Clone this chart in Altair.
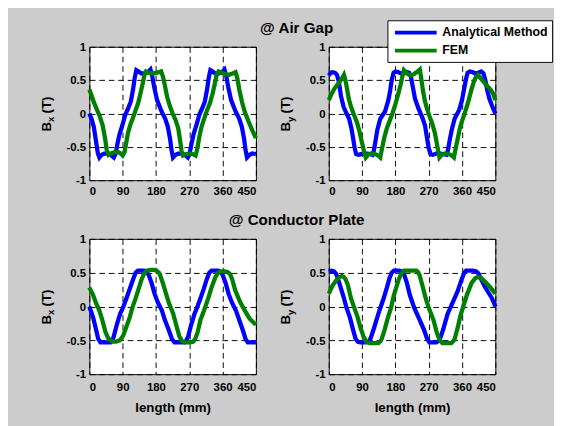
import altair as alt
import pandas as pd

FONT = "Liberation Sans"
METHODS = ["Analytical Method", "FEM"]
COLORS = ["#0000ff", "#008000"]
X_TICKS = [0, 90, 180, 270, 360, 450]
Y_TICKS = [-1, -0.5, 0, 0.5, 1]

# (length mm, B in T)
gap_bx_ana = [(0, 0.0), (6, -0.08), (12, -0.2), (18, -0.42), (23, -0.6), (27, -0.66), (33, -0.62), (40, -0.6),
              (50, -0.6), (58, -0.62), (66, -0.66), (71, -0.6), (76, -0.45), (82, -0.3), (89, -0.18), (97, -0.02),
              (105, 0.08), (112, 0.18), (118, 0.36), (123, 0.55), (127, 0.65), (133, 0.63), (140, 0.6), (150, 0.6),
              (158, 0.62), (165, 0.66), (170, 0.56), (175, 0.4), (183, 0.2), (195, 0.03), (205, -0.08), (212, -0.2),
              (218, -0.38), (222, -0.55), (226, -0.66), (233, -0.62), (240, -0.6), (250, -0.6), (258, -0.62),
              (266, -0.66), (271, -0.6), (276, -0.45), (282, -0.3), (289, -0.18), (297, -0.02), (305, 0.08),
              (312, 0.18), (318, 0.36), (323, 0.55), (327, 0.65), (333, 0.63), (340, 0.6), (350, 0.6), (358, 0.62),
              (365, 0.66), (370, 0.56), (375, 0.4), (383, 0.2), (395, 0.03), (405, -0.08), (412, -0.2), (418, -0.38),
              (422, -0.55), (426, -0.66), (433, -0.62), (440, -0.6), (450, -0.61)]
gap_bx_fem = [(0, 0.36), (6, 0.27), (12, 0.17), (20, 0.06), (28, -0.04), (36, -0.18), (42, -0.36), (47, -0.55),
              (52, -0.62), (58, -0.6), (68, -0.58), (78, -0.58), (85, -0.6), (90, -0.63), (95, -0.58), (99, -0.46),
              (104, -0.3), (110, -0.18), (118, -0.06), (125, 0.05), (132, 0.16), (138, 0.3), (144, 0.45),
              (149, 0.58), (153, 0.63), (160, 0.61), (170, 0.6), (180, 0.61), (188, 0.62), (194, 0.63), (199, 0.55),
              (204, 0.42), (210, 0.25), (217, 0.12), (225, 0.0), (233, -0.1), (240, -0.22), (245, -0.4),
              (249, -0.56), (253, -0.63), (260, -0.61), (270, -0.6), (280, -0.61), (287, -0.63), (292, -0.52),
              (297, -0.35), (303, -0.2), (310, -0.08), (318, 0.05), (326, 0.16), (333, 0.3), (339, 0.45),
              (344, 0.58), (349, 0.63), (357, 0.61), (367, 0.59), (377, 0.58), (387, 0.6), (395, 0.62), (400, 0.52),
              (405, 0.36), (412, 0.18), (420, 0.02), (430, -0.12), (440, -0.25), (450, -0.37)]
gap_by_ana = [(0, 0.57), (5, 0.61), (10, 0.62), (17, 0.61), (22, 0.58), (27, 0.48), (33, 0.26), (40, 0.1),
              (48, 0.0), (55, -0.08), (61, -0.22), (66, -0.38), (70, -0.52), (74, -0.61), (80, -0.62), (87, -0.61),
              (95, -0.6), (105, -0.6), (113, -0.61), (118, -0.62), (122, -0.55), (126, -0.42), (131, -0.25),
              (139, -0.08), (152, 0.03), (161, 0.2), (166, 0.35), (170, 0.5), (175, 0.61), (180, 0.63), (187, 0.62),
              (195, 0.6), (203, 0.6), (211, 0.62), (217, 0.61), (222, 0.55), (226, 0.43), (233, 0.22), (242, 0.08),
              (252, -0.05), (260, -0.18), (265, -0.35), (270, -0.52), (275, -0.61), (281, -0.62), (290, -0.6),
              (300, -0.6), (310, -0.61), (318, -0.62), (322, -0.55), (326, -0.42), (332, -0.25), (340, -0.08),
              (352, 0.05), (360, 0.2), (366, 0.38), (371, 0.52), (375, 0.61), (381, 0.63), (388, 0.62), (396, 0.6),
              (404, 0.61), (412, 0.63), (418, 0.6), (423, 0.5), (428, 0.35), (434, 0.22), (440, 0.13), (446, 0.05),
              (450, 0.0)]
gap_by_fem = [(0, 0.2), (8, 0.3), (15, 0.37), (23, 0.43), (30, 0.48), (36, 0.53), (41, 0.58), (45, 0.5),
              (49, 0.38), (54, 0.22), (60, 0.1), (68, -0.02), (76, -0.13), (83, -0.27), (89, -0.42), (95, -0.56),
              (100, -0.66), (106, -0.62), (115, -0.6), (126, -0.61), (133, -0.63), (139, -0.66), (144, -0.52),
              (150, -0.36), (157, -0.22), (165, -0.1), (172, 0.0), (180, 0.14), (187, 0.28), (194, 0.43),
              (199, 0.56), (203, 0.65), (208, 0.62), (214, 0.59), (222, 0.57), (230, 0.59), (238, 0.62), (246, 0.66),
              (250, 0.52), (254, 0.36), (259, 0.2), (265, 0.08), (272, -0.04), (280, -0.16), (287, -0.3),
              (293, -0.48), (299, -0.66), (305, -0.62), (315, -0.6), (325, -0.61), (332, -0.63), (338, -0.66),
              (343, -0.52), (349, -0.36), (355, -0.2), (362, -0.08), (370, 0.05), (378, 0.2), (385, 0.35),
              (392, 0.48), (398, 0.55), (403, 0.58), (410, 0.53), (418, 0.48), (425, 0.43), (437, 0.36), (444, 0.3),
              (450, 0.2)]
plate_bx_ana = [(0, 0.0), (5, -0.08), (10, -0.16), (18, -0.34), (24, -0.48), (30, -0.53), (44, -0.53), (57, -0.53),
                (62, -0.5), (66, -0.44), (74, -0.27), (83, -0.11), (92, 0.0), (100, 0.12), (109, 0.26), (118, 0.4),
                (125, 0.5), (131, 0.53), (148, 0.53), (155, 0.51), (160, 0.47), (168, 0.35), (176, 0.19),
                (185, 0.06), (196, -0.06), (204, -0.2), (214, -0.34), (223, -0.48), (230, -0.53), (245, -0.53),
                (257, -0.53), (262, -0.5), (267, -0.44), (275, -0.27), (284, -0.11), (292, 0.0), (300, 0.12),
                (309, 0.26), (317, 0.4), (324, 0.5), (330, 0.53), (348, 0.53), (355, 0.51), (360, 0.47), (368, 0.35),
                (376, 0.19), (385, 0.06), (396, -0.06), (405, -0.2), (414, -0.34), (422, -0.48), (428, -0.53),
                (440, -0.53), (450, -0.53)]
plate_bx_fem = [(0, 0.28), (10, 0.17), (18, 0.05), (27, -0.06), (35, -0.2), (43, -0.37), (50, -0.46), (56, -0.5),
                (63, -0.52), (72, -0.52), (82, -0.5), (88, -0.46), (92, -0.42), (100, -0.3), (109, -0.16),
                (117, 0.0), (125, 0.12), (133, 0.26), (141, 0.4), (148, 0.49), (155, 0.53), (165, 0.54), (175, 0.54),
                (182, 0.53), (188, 0.5), (192, 0.45), (199, 0.34), (207, 0.19), (215, 0.05), (226, -0.1),
                (235, -0.28), (243, -0.44), (250, -0.51), (258, -0.53), (270, -0.53), (280, -0.52), (285, -0.49),
                (292, -0.39), (300, -0.2), (311, -0.04), (321, 0.12), (330, 0.28), (340, 0.43), (348, 0.5),
                (355, 0.52), (365, 0.52), (373, 0.51), (380, 0.48), (386, 0.4), (394, 0.24), (407, 0.07),
                (420, -0.06), (433, -0.18), (450, -0.27)]
plate_by_ana = [(0, 0.52), (8, 0.53), (14, 0.52), (19, 0.49), (23, 0.44), (31, 0.3), (40, 0.14), (48, -0.02),
                (57, -0.16), (65, -0.33), (72, -0.47), (78, -0.52), (85, -0.53), (100, -0.53), (108, -0.52),
                (113, -0.47), (121, -0.34), (130, -0.18), (138, -0.04), (147, 0.1), (156, 0.26), (164, 0.42),
                (170, 0.5), (176, 0.53), (190, 0.53), (197, 0.52), (203, 0.48), (211, 0.35), (219, 0.17),
                (231, -0.02), (244, -0.18), (257, -0.34), (266, -0.48), (272, -0.53), (290, -0.53), (297, -0.51),
                (301, -0.47), (309, -0.34), (321, -0.11), (334, 0.05), (347, 0.21), (359, 0.4), (366, 0.5),
                (371, 0.53), (390, 0.53), (398, 0.52), (404, 0.49), (410, 0.42), (420, 0.31), (432, 0.2),
                (440, 0.13), (445, 0.07), (450, 0.0)]
plate_by_fem = [(0, 0.19), (10, 0.31), (22, 0.4), (30, 0.44), (35, 0.45), (40, 0.44), (45, 0.41), (52, 0.31),
                (60, 0.12), (69, -0.02), (78, -0.16), (86, -0.32), (95, -0.46), (102, -0.52), (110, -0.54),
                (125, -0.54), (134, -0.54), (140, -0.51), (143, -0.48), (151, -0.34), (159, -0.18), (168, -0.02),
                (176, 0.17), (189, 0.4), (196, 0.49), (203, 0.53), (215, 0.53), (228, 0.53), (237, 0.53),
                (241, 0.51), (245, 0.47), (253, 0.31), (262, 0.12), (270, -0.02), (283, -0.2), (292, -0.39),
                (300, -0.5), (307, -0.54), (320, -0.54), (331, -0.54), (337, -0.51), (340, -0.48), (348, -0.32),
                (356, -0.13), (365, 0.03), (373, 0.17), (386, 0.35), (396, 0.42), (403, 0.44), (412, 0.42),
                (425, 0.35), (437, 0.28), (450, 0.19)]

W = 176


def ylabel(text, fs, x, y):
    return alt.Chart(pd.DataFrame({"t": [text]})).mark_text(
        angle=270, align="left", baseline="alphabetic", font=FONT, fontSize=fs,
        fontWeight="bold", color="black"
    ).encode(text="t:N", x=alt.value(x), y=alt.value(y))


def panel(ana, fem, comp, bottom):
    h = 143 if bottom else 141
    rows = [{"x": a, "B": b, "Method": METHODS[0]} for a, b in ana] + \
           [{"x": a, "B": b, "Method": METHODS[1]} for a, b in fem]
    df = pd.DataFrame(rows)
    if bottom:
        xaxis = alt.Axis(values=X_TICKS, title="length (mm)", labelExpr="'' + datum.value",
                         labelPadding=8, titlePadding=9)
    else:
        xaxis = alt.Axis(values=X_TICKS, title=None, labelExpr="'' + datum.value", labelPadding=6)
    yaxis = alt.Axis(values=Y_TICKS, title=None, labelExpr="'' + datum.value", labelPadding=4)
    lines = alt.Chart(df).mark_line(strokeWidth=4.5).encode(
        x=alt.X("x:Q", scale=alt.Scale(domain=[0, 450], nice=False, zero=False), axis=xaxis),
        y=alt.Y("B:Q", scale=alt.Scale(domain=[-1, 1], nice=False), axis=yaxis),
        color=alt.Color("Method:N", scale=alt.Scale(domain=METHODS, range=COLORS),
                        legend=alt.Legend(title=None, orient="none", legendX=315, legendY=-28,
                                          symbolType="M-1,0H5.286", symbolSize=196, symbolStrokeWidth=4,
                                          symbolOffset=2, labelOffset=34, labelFont=FONT, labelFontSize=13,
                                          labelFontWeight="bold", labelColor="black",
                                          fillColor="white", strokeColor="black", padding=4,
                                          rowPadding=2)),
    )
    return alt.layer(
        lines,
        ylabel("B", 14, -41, h / 2 + 19),
        ylabel(comp, 10, -37, h / 2 + 9),
        ylabel("(T)", 14, -41, h / 2),
    ).properties(width=W, height=h)


def row_title(text):
    return alt.TitleParams(text, anchor="middle", dx=26, offset=5, font=FONT, fontSize=16,
                           fontWeight="bold", color="black")


row1 = alt.hconcat(panel(gap_bx_ana, gap_bx_fem, "x", False), panel(gap_by_ana, gap_by_fem, "y", False),
                   spacing=14, title=row_title("@ Air Gap"))
row2 = alt.hconcat(panel(plate_bx_ana, plate_bx_fem, "x", True), panel(plate_by_ana, plate_by_fem, "y", True),
                   spacing=14, title=row_title("@ Conductor Plate"))

chart = alt.vconcat(row1, row2, spacing=16).properties(
    background="#cccccc",
    padding={"left": 33, "top": 0, "right": 1, "bottom": 4},
).configure_view(
    fill="white", stroke="black", strokeWidth=1
).configure_axis(
    labelFont=FONT, labelFontSize=12, labelFontWeight="bold", labelColor="black",
    titleFont=FONT, titleFontSize=14, titleFontWeight="bold", titleColor="black",
    domain=False, ticks=False,
    grid=True, gridColor="black", gridDash=[6, 4], gridWidth=1, gridOpacity=1,
)

chart.save("out.html", embed_options={"renderer": "svg", "actions": False})
